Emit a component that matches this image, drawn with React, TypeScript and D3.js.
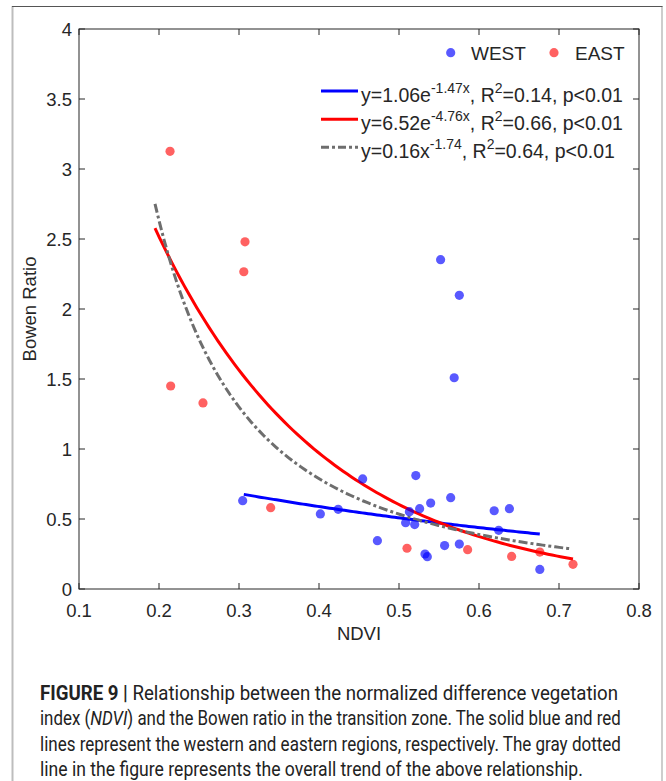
import React, { useLayoutEffect, useRef, useState } from "react";
import * as d3 from "d3";

const westNDVI = [0.3046, 0.4017, 0.424, 0.4546, 0.473, 0.521, 0.513, 0.5083, 0.5196, 0.5258, 0.5396, 0.5646, 0.5325, 0.5354, 0.557, 0.5754, 0.619, 0.638, 0.6246, 0.676, 0.552, 0.5754, 0.569];
const westBR = [0.631, 0.536, 0.569, 0.786, 0.345, 0.81, 0.552, 0.474, 0.46, 0.574, 0.614, 0.652, 0.25, 0.231, 0.31, 0.321, 0.559, 0.574, 0.419, 0.14, 2.352, 2.098, 1.509];
const eastNDVI = [0.2138, 0.3075, 0.306, 0.2146, 0.255, 0.3396, 0.51, 0.5858, 0.6408, 0.676, 0.7175];
const eastBR = [3.126, 2.48, 2.266, 1.45, 1.329, 0.581, 0.291, 0.281, 0.233, 0.264, 0.176];

const xTicks = [0.1, 0.2, 0.3, 0.4, 0.5, 0.6, 0.7, 0.8];
const yTicks = [0, 0.5, 1, 1.5, 2, 2.5, 3, 3.5, 4];

// fitted models as given in the legend
const fitWest = { a: 1.06, b: -1.47, from: 0.306, to: 0.676 };
const fitEast = { a: 6.52, b: -4.76, from: 0.195, to: 0.7175 };
const fitAll = { a: 0.16, b: -1.74, from: 0.195, to: 0.716 };

const captionLines = [
  ["FIGURE 9 |", " Relationship between the normalized difference vegetation"],
  ["", "index (", "NDVI", ") and the Bowen ratio in the transition zone. The solid blue and red"],
  ["", "lines represent the western and eastern regions, respectively. The gray dotted"],
  ["", "line in the figure represents the overall trend of the above relationship."],
];
const captionWidths = [578, 581, 581, 543];

const W = 666, H = 781;
const L = 79, R = 639, T = 29, B = 589;
const FONT = "'Liberation Sans', Arial, Helvetica, sans-serif";

export default function App() {
  const x = d3.scaleLinear().domain([0.1, 0.8]).range([L, R]);
  const y = d3.scaleLinear().domain([0, 4]).range([B, T]);

  const capRefs = useRef<(SVGTextElement | null)[]>([]);
  const [scales, setScales] = useState<number[]>([0.84, 0.84, 0.84, 0.84]);
  useLayoutEffect(() => {
    const s = capRefs.current.map((el, i) => {
      if (!el) return 0.84;
      const len = el.getComputedTextLength();
      return len > 0 ? captionWidths[i] / len : 0.84;
    });
    setScales(s);
  }, []);

  const sample = (from: number, to: number) => d3.range(0, 101).map((i) => from + ((to - from) * i) / 100);
  const expPath = (f: { a: number; b: number; from: number; to: number }) =>
    d3.line<number>().x((v) => x(v)).y((v) => y(f.a * Math.exp(f.b * v)))(sample(f.from, f.to)) || "";
  const powPath = (f: { a: number; b: number; from: number; to: number }) =>
    d3.line<number>().x((v) => x(v)).y((v) => y(f.a * Math.pow(v, f.b)))(sample(f.from, f.to)) || "";

  const axisColor = "#262626";
  const tickLen = 6;
  const blue = "#0000ff";
  const red = "#ff0000";
  const gray = "#6e6e6e";
  const dash = "9,3,3,3";

  const legendRow = (yy: number, color: string, dashed: boolean, parts: { t: string; sup?: boolean }[]) => (
    <g>
      <line x1={321} x2={358} y1={yy} y2={yy} stroke={color} strokeWidth={3} strokeDasharray={dashed ? "8,3,3,3" : undefined} />
      <text x={361} y={yy + 10.5} fontSize={19.5} fill="#262626" fontFamily={FONT}>
        {parts.map((p, i) => {
          const prev = i > 0 ? parts[i - 1] : null;
          let dy = 0;
          if (p.sup) dy = -8.5;
          else if (prev && prev.sup) dy = 8.5;
          return (
            <tspan key={i} dy={dy} fontSize={p.sup ? 14 : 19.5}>
              {p.t}
            </tspan>
          );
        })}
      </text>
    </g>
  );

  return (
    <svg width={W} height={H} style={{ position: "absolute", left: 0, top: 0, background: "#fff" }} fontFamily={FONT}>
      <rect x={0} y={0} width={W} height={H} fill="#fff" />
      {/* outer frame */}
      <line x1={12.5} x2={12.5} y1={6} y2={H} stroke="#bdbdbd" strokeWidth={2} />
      <line x1={662} x2={662} y1={6} y2={H} stroke="#bdbdbd" strokeWidth={1.5} />
      <line x1={12} x2={662.5} y1={6.5} y2={6.5} stroke="#555" strokeWidth={1} />

      {/* fit lines */}
      <path d={expPath(fitWest)} fill="none" stroke={blue} strokeWidth={3} />
      <path d={expPath(fitEast)} fill="none" stroke={red} strokeWidth={3} />
      <path d={powPath(fitAll)} fill="none" stroke={gray} strokeWidth={3} strokeDasharray={dash} />

      {/* points */}
      {westNDVI.map((v, i) => (
        <circle key={"w" + i} cx={x(v)} cy={y(westBR[i])} r={4.6} fill="#0000ff" fillOpacity={0.65} />
      ))}
      {eastNDVI.map((v, i) => (
        <circle key={"e" + i} cx={x(v)} cy={y(eastBR[i])} r={4.6} fill="#ff0000" fillOpacity={0.62} />
      ))}

      {/* axes box */}
      <rect x={L} y={T} width={R - L} height={B - T} fill="none" stroke={axisColor} strokeWidth={1} />
      {xTicks.map((t) => (
        <g key={"xt" + t}>
          <line x1={x(t)} x2={x(t)} y1={B} y2={B - tickLen} stroke={axisColor} />
          <line x1={x(t)} x2={x(t)} y1={T} y2={T + tickLen} stroke={axisColor} />
          <text x={x(t)} y={616.5} fontSize={18.5} textAnchor="middle" fill="#262626">
            {String(t)}
          </text>
        </g>
      ))}
      {yTicks.map((t) => (
        <g key={"yt" + t}>
          <line x1={L} x2={L + tickLen} y1={y(t)} y2={y(t)} stroke={axisColor} />
          <line x1={R} x2={R - tickLen} y1={y(t)} y2={y(t)} stroke={axisColor} />
          <text x={72} y={y(t) + 6.5} fontSize={18.5} textAnchor="end" fill="#262626">
            {String(t)}
          </text>
        </g>
      ))}
      <text x={(L + R) / 2} y={640} fontSize={18.5} textAnchor="middle" fill="#262626">
        NDVI
      </text>
      <text transform={`translate(36,${(T + B) / 2}) rotate(-90)`} fontSize={18.5} textAnchor="middle" fill="#262626">
        Bowen Ratio
      </text>

      {/* legend */}
      <circle cx={450.7} cy={52.7} r={4.6} fill="#0000ff" fillOpacity={0.65} />
      <text x={471} y={59.5} fontSize={19} fill="#262626">WEST</text>
      <circle cx={554} cy={52.7} r={4.6} fill="#ff0000" fillOpacity={0.62} />
      <text x={575} y={59.5} fontSize={19} fill="#262626">EAST</text>

      {legendRow(91, blue, false, [
        { t: "y=1.06e" }, { t: "-1.47x", sup: true }, { t: ", R" }, { t: "2", sup: true }, { t: "=0.14, p<0.01" },
      ])}
      {legendRow(119.3, red, false, [
        { t: "y=6.52e" }, { t: "-4.76x", sup: true }, { t: ", R" }, { t: "2", sup: true }, { t: "=0.66, p<0.01" },
      ])}
      {legendRow(147.3, gray, true, [
        { t: "y=0.16x" }, { t: "-1.74", sup: true }, { t: ", R" }, { t: "2", sup: true }, { t: "=0.64, p<0.01" },
      ])}

      {/* caption */}
      {captionLines.map((ln, i) => (
        <g key={"c" + i} transform={`translate(40,${700 + i * 25.3}) scale(${scales[i]},1)`}>
          <text
            ref={(el) => {
              capRefs.current[i] = el;
            }}
            x={0}
            y={0}
            fontSize={20.5}
            fill="#222"
            fontFamily="Roboto, 'Liberation Sans', sans-serif"
          >
            {i === 0 ? (
              <>
                <tspan fontWeight="bold">{ln[0]}</tspan>
                <tspan>{ln[1]}</tspan>
              </>
            ) : i === 1 ? (
              <>
                <tspan>{ln[1]}</tspan>
                <tspan fontStyle="italic">{ln[2]}</tspan>
                <tspan>{ln[3]}</tspan>
              </>
            ) : (
              <tspan>{ln[1]}</tspan>
            )}
          </text>
        </g>
      ))}
    </svg>
  );
}
